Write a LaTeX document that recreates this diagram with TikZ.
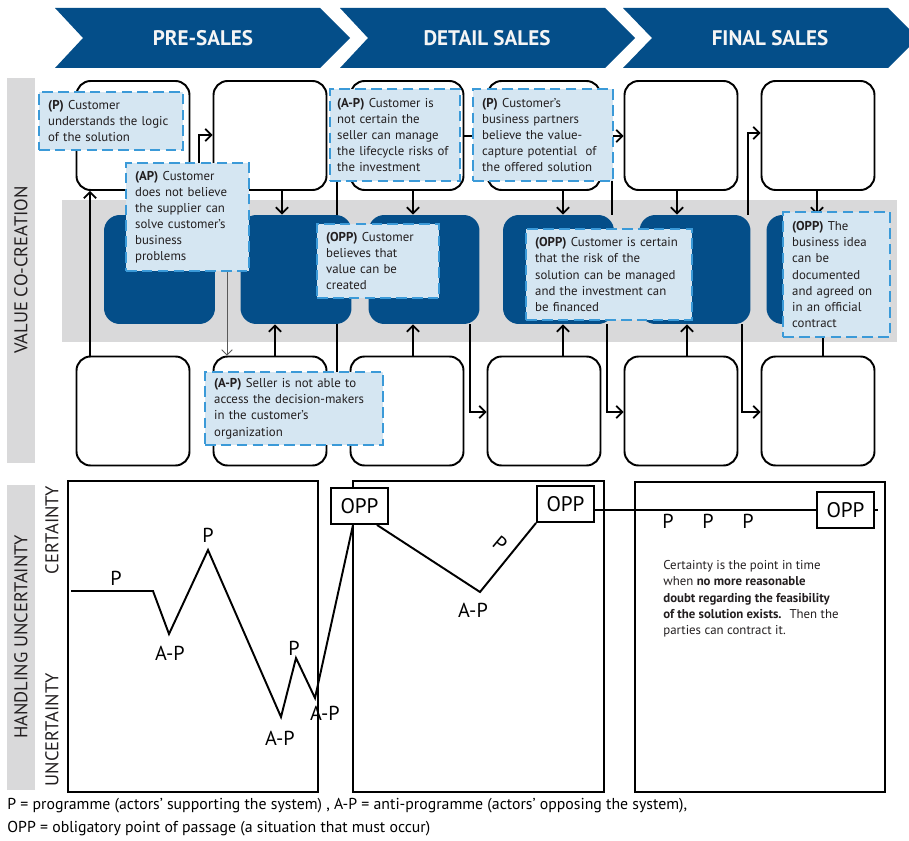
\documentclass[tikz,border=0pt]{standalone}
\usepackage{fontspec}
\setmainfont{PT Sans}
\usetikzlibrary{positioning,arrows.meta}
\definecolor{salesblue}{HTML}{044E89}
\definecolor{bandgray}{HTML}{D9D9DA}
\definecolor{notefill}{HTML}{D5E6F2}
\definecolor{noteline}{HTML}{3B9AD8}
\definecolor{inkgray}{HTML}{231F20}

\begin{document}
\begin{tikzpicture}[x=0.02cm,y=-0.02cm,
    >={Straight Barb[length=3.5pt,width=7pt]},
    wbox/.style={draw,line width=1.1pt,rounded corners=8pt,fill=white,
                 minimum width=2.26cm,minimum height=2.18cm},
    dbox/.style={fill=salesblue,rounded corners=9pt,
                 minimum width=2.22cm,minimum height=2.18cm},
    link/.style={line width=1pt},
    note/.style={draw=noteline,fill=notefill,line width=1.3pt,
                 dash pattern=on 6pt off 3pt,anchor=north west,align=left,
                 inner xsep=0.18cm,inner ysep=0pt,text=inkgray,
                 font=\fontsize{7.3}{9.2}\selectfont},
    phase/.style={font=\bfseries\fontsize{12}{14}\selectfont,text=white!92!gray},
    side/.style={rotate=90,font=\fontsize{10.5}{12}\selectfont,text=inkgray},
    lbl/.style={font=\fontsize{11.5}{13}\selectfont,inner sep=0pt},
    oppbox/.style={draw,line width=1.1pt,fill=white,minimum width=1.14cm,
                   minimum height=0.72cm,inner sep=0pt,
                   font=\fontsize{12}{14}\selectfont}]
\useasboundingbox (0,0) rectangle (909,841);

% phases
\fill[salesblue] (55,8) -- (320,8) -- (350,38) -- (320,68) -- (55,68) -- (83,38) -- cycle;
\fill[salesblue] (340,8) -- (605,8) -- (635,38) -- (605,68) -- (340,68) -- (368,38) -- cycle;
\fill[salesblue] (623,8) -- (888,8) -- (909,29) -- (909,47) -- (888,68) -- (623,68) -- (652,38) -- cycle;
\node[phase] (pre) at (203,38) {PRE-SALES};
\node[phase] (detail) at (487,38) {DETAIL SALES};
\node[phase] (final) at (770,38) {FINAL SALES};

% side bars
\fill[bandgray] (7,78) rectangle (35,463);
\fill[bandgray] (7,485) rectangle (35,790);
\node[side] (vcc) at (21,270) {VALUE CO-CREATION};
\node[side] (hu) at (21,637) {HANDLING UNCERTAINTY};
\fill[bandgray] (62,200) rectangle (897,342);

% boxes
\node[wbox] (t1) at (133,135.5) {};
\node[wbox] (t2) at (270,135.5) {};
\node[wbox] (t3) at (407,135.5) {};
\node[wbox] (t4) at (544,135.5) {};
\node[wbox] (t5) at (681,135.5) {};
\node[wbox] (t6) at (818,135.5) {};
\node[dbox] (m1) at (159.5,269.5) {};
\node[dbox] (m2) at (296,269.5) {};
\node[dbox] (m3) at (424,269.5) {};
\node[dbox] (m4) at (558.5,269.5) {};
\node[dbox] (m5) at (695,269.5) {};
\node[dbox] (m6) at (822,269.5) {};
\node[wbox] (b1) at (133,411) {};
\node[wbox] (b2) at (270,411) {};
\node[wbox] (b3) at (407,411) {};
\node[wbox] (b4) at (544,411) {};
\node[wbox] (b5) at (681,411) {};
\node[wbox] (b6) at (818,411) {};

% connectors
\draw[link,->] (b1.north -| 90,0) -- (t1.south -| 90,0);
\draw[link,->] (m1.north -| 199,0) |- (t2.west |- 0,135);
\draw[link,->] (t2.south -| 282,0) -- (m2.north -| 282,0);
\draw[link,->] (b2.north -| 275,0) -- (m2.south -| 275,0);
\draw[link,->] (m2.north -| 337,0) |- (t3.west |- 0,136);
\draw[link,->] (m2.south -| 337,0) |- (b3.west |- 0,412);
\draw[link,->] (t3.south -| 413,0) -- (m3.north -| 413,0);
\draw[link,->] (b3.north -| 413,0) -- (m3.south -| 413,0);
\draw[link,->] (t3.east |- 0,136) -- (t4.west |- 0,136);
\draw[link,->] (m3.south -| 470,0) |- (b4.west |- 0,412);
\draw[link,->] (t4.south -| 563,0) -- (m4.north -| 563,0);
\draw[link,->] (b4.north -| 563,0) -- (m4.south -| 563,0);
\draw[link,->] (m4.north -| 612,0) |- (t5.west |- 0,136);
\draw[link,->] (m4.south -| 607,0) |- (b5.west |- 0,412);
\draw[link,->] (t5.south -| 677,0) -- (m5.north -| 677,0);
\draw[link,->] (b5.north -| 687,0) -- (m5.south -| 687,0);
\draw[link,->] (m5.north -| 748,0) |- (t6.west |- 0,133);
\draw[link,->] (m5.south -| 742,0) |- (b6.west |- 0,412);
\draw[link,->] (t6.south -| 817,0) -- (m6.north -| 817,0);
\draw[link,->] (b6.north -| 823,0) -- (m6.south -| 823,0);

% callouts
\node[note,text width=2.52cm,minimum height=1.16cm] (n1) at (38,91)
  {\textbf{(P)} Customer\\understands the logic\\of the solution};
\node[note,text width=2.10cm,minimum height=2.16cm] (n2) at (125,162)
  {\textbf{(AP)} Customer\\does not believe\\the supplier can\\solve customer’s\\business\\problems};
\node[note,inner xsep=0.14cm,text width=2.32cm,minimum height=1.84cm] (n3) at (329,88)
  {\textbf{(A-P)} Customer is\\not certain the\\seller can manage\\the lifecycle risks of\\the investment};
\node[note,text width=2.44cm,minimum height=1.84cm] (n4) at (472,88)
  {\textbf{(P)} Customer's\\business partners\\believe the value-\\capture potential~ of\\the offered solution};
\node[note,text width=2.08cm,minimum height=1.48cm] (n5) at (316,223)
  {\textbf{(OPP)} Customer\\believes that\\value can be\\created};
\node[note,text width=2.96cm,minimum height=1.82cm] (n6) at (525,228)
  {\textbf{(OPP)} Customer is certain\\that the risk of the\\solution can be managed\\and the investment can\\be financed};
\node[note,text width=1.78cm,minimum height=2.50cm] (n7) at (782,211)
  {\textbf{(OPP)} The\\business idea\\can be\\documented\\and agreed on\\in an official\\contract};
\node[note,text width=3.20cm,minimum height=1.46cm] (n8) at (204,371)
  {\textbf{(A-P)} Seller is not able to\\access the decision-makers\\in the customer’s\\organization};
\draw[->,gray!70!black,line width=0.5pt,>={Straight Barb[length=3pt,width=6pt]}]
  (n2.south -| 227,0) -- (b2.north -| 227,0);

% uncertainty panels
\draw[line width=1.1pt] (68,481) rectangle (318,792);
\draw[line width=1.1pt] (353,481) rectangle (604,792);
\draw[line width=1.1pt] (635,482) rectangle (885,792);
\node[side] (cert) at (52,530) {CERTAINTY};
\node[side] (uncert) at (52,730) {UNCERTAINTY};

\node[oppbox] (o1) at (359.5,506) {OPP};
\node[oppbox] (o2) at (565.5,504) {OPP};
\node[oppbox] (o3) at (845.5,510) {OPP};

\coordinate (p0) at (71,591);
\coordinate (p1) at (153,591);
\coordinate (p2) at (169,634);
\coordinate (p3) at (208,550);
\coordinate (p4) at (281,717);
\coordinate (p5) at (296,658);
\coordinate (p6) at (315,698);
\coordinate (q1) at (480,592);
\draw[line width=1.1pt,line join=miter] (p0) -- (p1) -- (p2) -- (p3) -- (p4) -- (p5) -- (p6)
  -- (o1.south -| 353,0);
\draw[line width=1.1pt] (o1.south -| 377,0) -- (q1) -- (o2.south west);
\draw[line width=1.1pt] (o2.east |- o3.west) -- (o3.west);
\draw[line width=1.1pt] (o3.east) -- (o3.east -| 878,0);

\node[lbl] (l1) at (116,578) {P};
\node[lbl] (l2) at (170,653) {A-P};
\node[lbl] (l3) at (208,535) {P};
\node[lbl] (l4) at (280,738) {A-P};
\node[lbl] (l5) at (294,648) {P};
\node[lbl] (l6) at (325,713) {A-P};
\node[lbl] (l7) at (473,610) {A-P};
\node[lbl,rotate=-40] (l8) at (500,544) {P};
\node[lbl] (l9) at (668,521) {P};
\node[lbl] (l10) at (708,521) {P};
\node[lbl] (l11) at (748,521) {P};

\node[anchor=north west,align=left,inner sep=0pt,text=inkgray,
      font=\fontsize{7.3}{9.3}\selectfont] (def) at (663,560)
  {Certainty is the point in time\\when \textbf{no more reasonable}\\\textbf{doubt regarding the feasibility}\\\textbf{of the solution exists.}~ Then the\\parties can contract it.};

% key
\node[anchor=west,inner sep=0pt,font=\fontsize{9}{11}\selectfont] (key1) at (7,806)
  {P = programme (actors’ supporting the system) , A-P = anti-programme (actors’ opposing the system),};
\node[anchor=west,inner sep=0pt,font=\fontsize{9}{11}\selectfont] (key2) at (7,829)
  {OPP = obligatory point of passage (a situation that must occur)};
\end{tikzpicture}
\end{document}
